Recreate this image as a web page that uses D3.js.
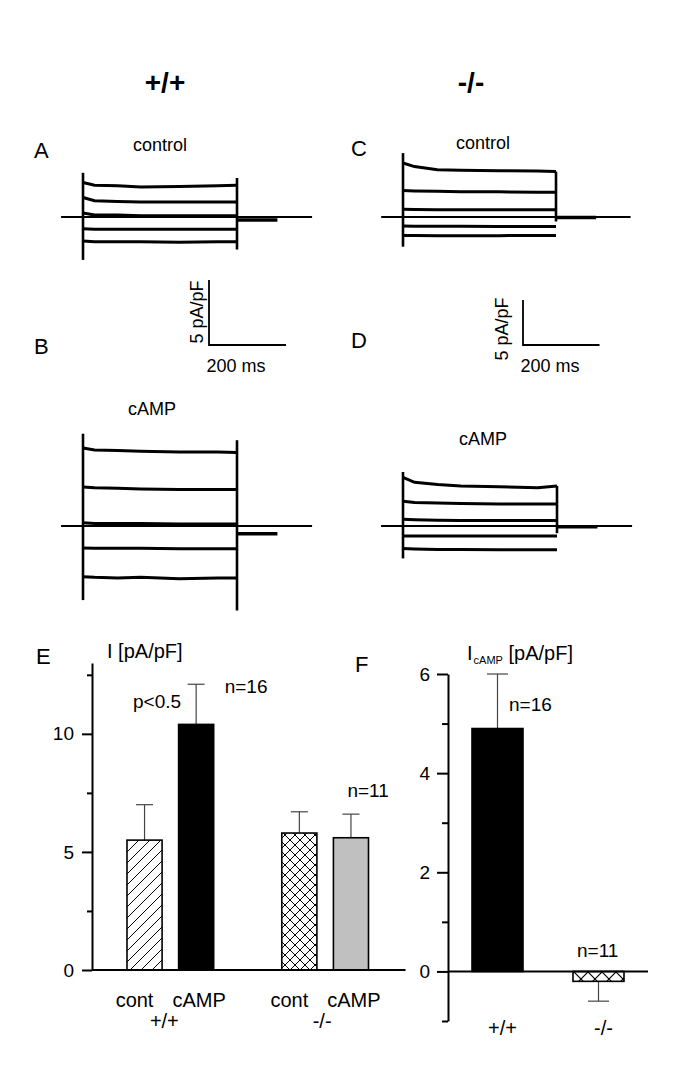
<!DOCTYPE html>
<html>
<head>
<meta charset="utf-8">
<script src="https://cdn.jsdelivr.net/npm/d3@7"></script>
<style>
  body { margin: 0; background: #fff; }
  svg { display: block; font-family: "Liberation Sans", Arial, sans-serif; }
</style>
</head>
<body>
<svg id="fig" width="685" height="1080"></svg>
<script>
// ---------- current traces (pA/pF) sampled at sweepTimes (ms) ----------
const sweepTimes = [0, 30, 90, 150, 250, 350, 400];
const ctrlWT = [
  [2.65, 2.45, 2.4, 2.3, 2.35, 2.4, 2.45],
  [1.5, 1.25, 1.2, 1.15, 1.15, 1.15, 1.15],
  [0.3, 0.15, 0.15, 0.1, 0.1, 0.1, 0.1],
  [-0.9, -0.95, -0.95, -0.95, -0.95, -0.95, -0.95],
  [-1.85, -1.9, -1.9, -1.9, -1.95, -1.9, -1.9]
];
const campWT = [
  [6.0, 5.85, 5.8, 5.75, 5.7, 5.7, 5.65],
  [3.0, 2.95, 2.9, 2.85, 2.8, 2.8, 2.8],
  [0.25, 0.2, 0.2, 0.2, 0.15, 0.15, 0.15],
  [-1.7, -1.72, -1.72, -1.72, -1.75, -1.75, -1.75],
  [-3.9, -3.95, -4.0, -3.95, -4.05, -4.0, -4.0]
];
const ctrlKO = [
  [6.0, 5.6, 5.25, 5.2, 5.15, 5.1, 5.05],
  [2.95, 2.9, 2.85, 2.8, 2.8, 2.75, 2.75],
  [0.85, 0.82, 0.8, 0.8, 0.8, 0.8, 0.8],
  [-1.0, -1.02, -1.04, -1.04, -1.05, -1.05, -1.05],
  [-2.05, -2.05, -2.07, -2.07, -2.07, -2.05, -2.05]
];
const campKO = [
  [5.4, 4.85, 4.6, 4.45, 4.35, 4.25, 4.45],
  [2.75, 2.6, 2.55, 2.5, 2.45, 2.45, 2.45],
  [0.75, 0.7, 0.65, 0.6, 0.6, 0.6, 0.6],
  [-1.1, -1.1, -1.1, -1.1, -1.1, -1.1, -1.1],
  [-2.5, -2.55, -2.6, -2.6, -2.65, -2.65, -2.65]
];
// capacitive transients [max, min] at pulse on / off, tail level (A, B, C, D)
const onsetSpikes = [[3.4, -3.3], [7.1, -5.7], [7.1, -3.3], [6.0, -3.6]];
const offsetSpikes = [[3.0, -2.5], [6.6, -6.5], [5.05, -0.5], [4.45, -0.8]];
const tailLevels = [-0.23, -0.6, -0.05, -0.07];
const pulseEnd = 400, tailEnd = 505, holdStart = -57, holdEnd = 595;

// ---------- panel E ----------
const barKeys = ['wtCont', 'wtCamp', 'gap', 'koCont', 'koCamp'];
const barLabels = ['cont', 'cAMP', 'cont', 'cAMP'];
const barKeysUsed = ['wtCont', 'wtCamp', 'koCont', 'koCamp'];
const barMeans = [5.5, 10.4, 5.8, 5.6];
const barErrors = [1.5, 1.7, 0.9, 1.0];
const eMajorTicks = [0, 5, 10];
const eMinorTicks = [2.5, 7.5, 12.5];

// ---------- panel F ----------
const diffLabels = ['+/+', '-/-'];
const diffMeans = [4.9, -0.2];
const diffErrors = [1.1, 0.4];
const fMajorTicks = [0, 2, 4, 6];
const fMinorTicks = [-1, 1, 3, 5];

const svg = d3.select('#fig');
svg.append('rect').attr('width', 685).attr('height', 1080).attr('fill', '#fff');

const txt = (x, y, s, size, opts = {}) => svg.append('text')
  .attr('x', x).attr('y', y).attr('font-size', size)
  .attr('text-anchor', opts.anchor || 'start')
  .attr('font-weight', opts.bold ? 'bold' : null)
  .text(s);

// hatch patterns
const defs = svg.append('defs');
defs.append('pattern').attr('id', 'diag').attr('patternUnits', 'userSpaceOnUse')
  .attr('width', 11).attr('height', 11)
  .append('path').attr('d', 'M-2,2 L2,-2 M0,11 L11,0 M9,13 L13,9')
  .attr('stroke', '#000').attr('stroke-width', 1);
const cross = defs.append('pattern').attr('id', 'cross').attr('patternUnits', 'userSpaceOnUse')
  .attr('width', 10).attr('height', 10);
cross.append('rect').attr('width', 10).attr('height', 10).attr('fill', '#fff');
cross.append('path').attr('d', 'M0,0 L10,10 M10,0 L0,10')
  .attr('stroke', '#000').attr('stroke-width', 1);
const cross2 = defs.append('pattern').attr('id', 'cross2').attr('patternUnits', 'userSpaceOnUse')
  .attr('width', 14).attr('height', 14).attr('y', 972);
cross2.append('rect').attr('width', 14).attr('height', 14).attr('fill', '#fff');
cross2.append('path').attr('d', 'M0,0 L14,14 M14,0 L0,14')
  .attr('stroke', '#000').attr('stroke-width', 1.2);

// ---------- headers ----------
txt(165, 92, '+/+', 28, {anchor: 'middle', bold: true});
txt(471, 92, '-/-', 28, {anchor: 'middle', bold: true});

// ---------- trace panels ----------
function drawTraces(sweeps, xr, zero, pxPerUnit, idx) {
  const x = d3.scaleLinear().domain([0, pulseEnd]).range(xr);
  const y = d3.scaleLinear().domain([0, 5]).range([zero, zero - 5 * pxPerUnit]);
  const g = svg.append('g').attr('fill', 'none').attr('stroke', '#000');
  g.append('line').attr('x1', x(holdStart)).attr('x2', x(holdEnd))
    .attr('y1', y(0)).attr('y2', y(0)).attr('stroke-width', 2);
  const line = d3.line().x((d, i) => x(sweepTimes[i])).y(d => y(d));
  sweeps.forEach(s => g.append('path').attr('d', line(s)).attr('stroke-width', 3));
  g.append('line').attr('x1', x(0)).attr('x2', x(0))
    .attr('y1', y(onsetSpikes[idx][0])).attr('y2', y(onsetSpikes[idx][1])).attr('stroke-width', 2.6);
  g.append('line').attr('x1', x(pulseEnd)).attr('x2', x(pulseEnd))
    .attr('y1', y(offsetSpikes[idx][0])).attr('y2', y(offsetSpikes[idx][1])).attr('stroke-width', 2.6);
  g.append('line').attr('x1', x(pulseEnd)).attr('x2', x(tailEnd))
    .attr('y1', y(tailLevels[idx])).attr('y2', y(tailLevels[idx])).attr('stroke-width', 3.5);
  return {x, y};
}

const scA = drawTraces(ctrlWT, [83, 237], 217, 13, 0);
drawTraces(campWT, [83, 237], 526, 13, 1);
const scC = drawTraces(ctrlKO, [403, 556], 217, 9, 2);
drawTraces(campKO, [403, 557], 526, 9, 3);

txt(34, 158, 'A', 22);
txt(34, 354, 'B', 22);
txt(351, 156, 'C', 22);
txt(351, 348, 'D', 22);
txt(160, 151, 'control', 18, {anchor: 'middle'});
txt(483, 149, 'control', 18, {anchor: 'middle'});
txt(152, 415, 'cAMP', 18, {anchor: 'middle'});
txt(483, 445, 'cAMP', 18, {anchor: 'middle'});

// scale bars: 200 ms x 5 pA/pF
function scaleBar(sc, cx, cy, textX, textY) {
  const w = sc.x(200) - sc.x(0), h = sc.y(0) - sc.y(5);
  svg.append('path').attr('d', `M${cx},${cy - h} L${cx},${cy} L${cx + w},${cy}`)
    .attr('fill', 'none').attr('stroke', '#000').attr('stroke-width', 1.8);
  txt(cx + 27, 372, '200 ms', 18, {anchor: 'middle'});
  svg.append('text').attr('transform', `translate(${textX},${textY}) rotate(-90)`)
    .attr('text-anchor', 'middle').attr('font-size', 18).text('5 pA/pF');
}
scaleBar(scA, 209, 345, 203, 312);
scaleBar(scC, 523, 345, 508, 329);

// ---------- panel E ----------
const xE = d3.scaleBand().domain(barKeys).range([127, 368.5]).paddingInner(0.32).paddingOuter(0);
const yE = d3.scaleLinear().domain([0, 13]).range([970, 663]);
const eFills = ['url(#diag)', '#000', 'url(#cross)', '#c0c0c0'];

svg.append('g').attr('transform', 'translate(92,0)')
  .call(d3.axisLeft(yE).tickValues(eMajorTicks).tickSize(10).tickSizeOuter(0).tickPadding(8))
  .call(g => g.selectAll('text').attr('font-size', 19).attr('font-family', null).attr('fill', '#000'))
  .call(g => g.selectAll('path, line').attr('stroke-width', 2));
svg.append('g').attr('transform', 'translate(92,0)')
  .call(d3.axisLeft(yE).tickValues(eMinorTicks).tickSize(5).tickFormat(''))
  .call(g => g.select('.domain').remove())
  .call(g => g.selectAll('line').attr('stroke-width', 2));

barKeysUsed.forEach((k, i) => {
  const x0 = xE(k), bw = xE.bandwidth(), cx = x0 + bw / 2;
  svg.append('line').attr('x1', cx).attr('x2', cx)
    .attr('y1', yE(barMeans[i])).attr('y2', yE(barMeans[i] + barErrors[i]))
    .attr('stroke', '#444').attr('stroke-width', 1.2);
  svg.append('line').attr('x1', cx - 8.5).attr('x2', cx + 8.5)
    .attr('y1', yE(barMeans[i] + barErrors[i])).attr('y2', yE(barMeans[i] + barErrors[i]))
    .attr('stroke', '#444').attr('stroke-width', 1.2);
  svg.append('rect').attr('x', x0).attr('width', bw)
    .attr('y', yE(barMeans[i])).attr('height', yE(0) - yE(barMeans[i]))
    .attr('fill', eFills[i]).attr('stroke', '#000').attr('stroke-width', 1.6);
  const dx = barLabels[i] === 'cont' ? -10 : 3;
  txt(cx + dx, 1007, barLabels[i], 20, {anchor: 'middle'});
});
svg.append('line').attr('x1', 92).attr('x2', xE.range()[1] + 37)
  .attr('y1', yE(0)).attr('y2', yE(0)).attr('stroke', '#000').attr('stroke-width', 2);

const mid = (a, b) => (xE(a) + xE(b) + xE.bandwidth()) / 2;
txt(mid('wtCont', 'wtCamp') - 6, 1028, '+/+', 20, {anchor: 'middle'});
txt(mid('koCont', 'koCamp') - 3, 1028, '-/-', 20, {anchor: 'middle'});

txt(36, 664, 'E', 22);
txt(107, 658, 'I [pA/pF]', 20);
txt(xE('wtCont') + 6, yE(11) - 2, 'p<0.5', 19);
txt(xE('wtCamp') + xE.bandwidth() + 11, yE(barMeans[1] + barErrors[1]) + 9, 'n=16', 19);
txt(xE('koCamp') + 14, yE(barMeans[3] + barErrors[3]) - 17, 'n=11', 19);

// ---------- panel F ----------
const xF = d3.scaleBand().domain(diffLabels).range([472, 624]).paddingInner(0.495).paddingOuter(0);
const yF = d3.scaleLinear().domain([-1, 6]).range([1021, 674]);
const fFills = ['#000', 'url(#cross2)'];

svg.append('g').attr('transform', 'translate(448,0)')
  .call(d3.axisLeft(yF).tickValues(fMajorTicks).tickFormat(d3.format('d'))
    .tickSize(11).tickSizeOuter(0).tickPadding(7))
  .call(g => g.selectAll('text').attr('font-size', 19).attr('font-family', null).attr('fill', '#000'))
  .call(g => g.selectAll('path, line').attr('stroke-width', 2));
svg.append('g').attr('transform', 'translate(448,0)')
  .call(d3.axisLeft(yF).tickValues(fMinorTicks).tickSize(6).tickFormat(''))
  .call(g => g.select('.domain').remove())
  .call(g => g.selectAll('line').attr('stroke-width', 2));

diffLabels.forEach((k, i) => {
  const x0 = xF(k), bw = xF.bandwidth(), cx = x0 + bw / 2;
  const m = diffMeans[i], e = m >= 0 ? m + diffErrors[i] : m - diffErrors[i];
  svg.append('line').attr('x1', cx).attr('x2', cx).attr('y1', yF(m)).attr('y2', yF(e))
    .attr('stroke', '#444').attr('stroke-width', 1.2);
  svg.append('line').attr('x1', cx - 10.5).attr('x2', cx + 10.5).attr('y1', yF(e)).attr('y2', yF(e))
    .attr('stroke', '#444').attr('stroke-width', 1.2);
  svg.append('rect').attr('x', x0).attr('width', bw)
    .attr('y', yF(Math.max(m, 0))).attr('height', Math.abs(yF(m) - yF(0)))
    .attr('fill', fFills[i]).attr('stroke', '#000').attr('stroke-width', 1.6);
  txt(cx + 5, 1035, k, 20, {anchor: 'middle'});
});
svg.append('line').attr('x1', 448).attr('x2', 648)
  .attr('y1', yF(0)).attr('y2', yF(0)).attr('stroke', '#000').attr('stroke-width', 2);

txt(355, 672, 'F', 22);
const lab = svg.append('text').attr('x', 467).attr('y', 660).attr('font-size', 20);
lab.append('tspan').text('I');
lab.append('tspan').attr('dy', 4).attr('font-size', 11).attr('dx', 1).text('cAMP');
lab.append('tspan').attr('dy', -4).attr('font-size', 20).text(' [pA/pF]');
txt(xF('+/+') + 37, yF(5.25), 'n=16', 19);
txt(xF('-/-') + 4, yF(0) - 14, 'n=11', 19);
</script>
</body>
</html>
